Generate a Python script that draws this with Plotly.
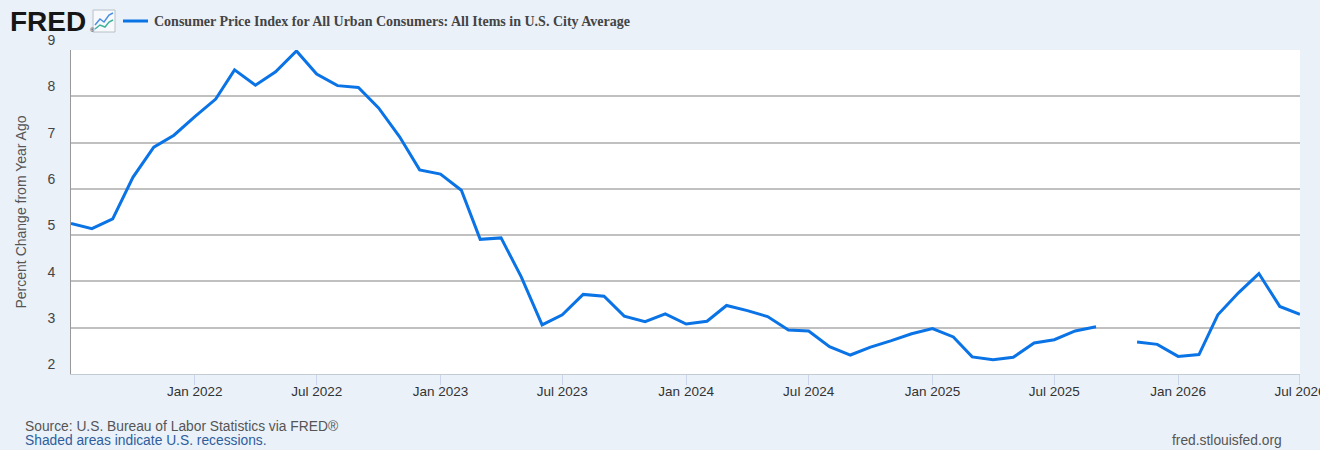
import pandas as pd
import plotly.graph_objects as go

# Monthly observations, Jul 2021 .. Jul 2026 (Oct 2025 missing)
months = pd.date_range("2021-07-01", "2026-07-01", freq="MS")
cpi_yoy = [
    5.25, 5.14, 5.35, 6.25, 6.90, 7.16,              # Jul-Dec 2021
    7.56, 7.94, 8.57, 8.24, 8.53, 8.98,              # Jan-Jun 2022
    8.48, 8.23, 8.19, 7.75, 7.13, 6.41,              # Jul-Dec 2022
    6.32, 5.97, 4.91, 4.94, 4.10, 3.06,              # Jan-Jun 2023
    3.28, 3.72, 3.68, 3.25, 3.13, 3.30,              # Jul-Dec 2023
    3.08, 3.14, 3.48, 3.37, 3.24, 2.95,              # Jan-Jun 2024
    2.93, 2.59, 2.41, 2.58, 2.72, 2.87,              # Jul-Dec 2024
    2.98, 2.80, 2.37, 2.31, 2.36, 2.67,              # Jan-Jun 2025
    2.74, 2.93, 3.02, None, 2.69, 2.64,              # Jul-Dec 2025
    2.38, 2.42, 3.28, 3.76, 4.17, 3.46,              # Jan-Jun 2026
    3.29,                                            # Jul 2026
]

x_ticks = pd.date_range("2022-01-01", "2026-07-01", freq="6MS")
x_tick_text = [d.strftime("%b %Y") for d in x_ticks]
y_ticks = [2, 3, 4, 5, 6, 7, 8, 9]

series_name = "Consumer Price Index for All Urban Consumers: All Items in U.S. City Average"
y_title = "Percent Change from Year Ago"

LINE_BLUE = "#0a73e6"
BG = "#eaf1f9"

# page geometry (pixels) so the header / footer can be placed like FRED does
W, H = 1320, 450
L, R, T, B = 71, 20, 50, 76


def px(x):
    return (x - L) / (W - L - R)


def py(y):
    return (H - B - y) / (H - T - B)


fig = go.Figure()

fig.add_trace(go.Scatter(
    x=months,
    y=cpi_yoy,
    mode="lines",
    line=dict(color=LINE_BLUE, width=3),
    connectgaps=False,
    name=series_name,
    showlegend=False,
))

fig.update_layout(
    width=W,
    height=H,
    autosize=False,
    margin=dict(l=L, r=R, t=T, b=B),
    paper_bgcolor=BG,
    plot_bgcolor="white",
    font=dict(family="Liberation Sans, Arial, sans-serif", color="#444"),
    xaxis=dict(
        range=[months[0], months[-1] + pd.Timedelta(hours=2)],
        tickvals=x_ticks,
        ticktext=x_tick_text,
        tickfont=dict(size=13.5, color="#333"),
        ticklabeloverflow="allow",
        ticklabelstandoff=-5,
        automargin=False,
        ticks="outside",
        ticklen=10,
        tickcolor="#ccd6eb",
        showgrid=False,
        showline=True,
        linecolor="#c3cbd6",
        linewidth=1,
        zeroline=False,
    ),
    yaxis=dict(
        range=[2, 9],
        tickvals=y_ticks,
        tickfont=dict(size=14, color="#444"),
        ticklabelposition="outside top",
        ticklabelstandoff=12,
        automargin=False,
        showgrid=True,
        gridcolor="#c0c0c0",
        gridwidth=1.5,
        showline=True,
        linecolor="#999999",
        linewidth=1,
        zeroline=False,
        title=dict(text=y_title, font=dict(size=14, color="#555"), standoff=17),
    ),
)

# header: FRED logo, little chart icon and the series legend
fig.add_annotation(
    x=px(8), y=py(21), xref="paper", yref="paper", xanchor="left", yanchor="middle",
    text="<b>FRED</b>", showarrow=False,
    font=dict(family="Liberation Sans, Arial, sans-serif", size=28, color="#161616"),
)
fig.add_annotation(
    x=px(88), y=py(30), xref="paper", yref="paper", xanchor="left", yanchor="middle",
    text="®", showarrow=False, font=dict(size=6, color="#161616"),
)
fig.add_shape(
    type="rect", xref="paper", yref="paper",
    x0=px(93), x1=px(115), y0=py(32), y1=py(10),
    fillcolor="#f7f9fc", line=dict(color="#b8c0c8", width=1),
)
fig.add_shape(
    type="path", xref="paper", yref="paper",
    path=f"M {px(95)},{py(25)} L {px(100)},{py(19)} L {px(104)},{py(22)} L {px(109)},{py(15)} L {px(113)},{py(13)}",
    line=dict(color="#4a8fe0", width=1.5),
)
fig.add_shape(
    type="path", xref="paper", yref="paper",
    path=f"M {px(95)},{py(29)} L {px(100)},{py(25)} L {px(105)},{py(27)} L {px(109)},{py(22)} L {px(113)},{py(20)}",
    line=dict(color="#3fb39a", width=1.5),
)
fig.add_shape(
    type="line", xref="paper", yref="paper",
    x0=px(123), x1=px(148), y0=py(21), y1=py(21),
    line=dict(color=LINE_BLUE, width=3),
)
fig.add_annotation(
    x=px(152), y=py(21), xref="paper", yref="paper", xanchor="left", yanchor="middle",
    text=f"<b>{series_name}</b>", showarrow=False,
    font=dict(family="Liberation Serif, Times New Roman, serif", size=14, color="#444"),
)

# footer
fig.add_annotation(
    x=px(23), y=py(426), xref="paper", yref="paper", xanchor="left", yanchor="middle",
    text="Source: U.S. Bureau of Labor Statistics via FRED®", showarrow=False,
    font=dict(size=13.8, color="#555"),
)
fig.add_annotation(
    x=px(23), y=py(440), xref="paper", yref="paper", xanchor="left", yanchor="middle",
    text="Shaded areas indicate U.S. recessions.", showarrow=False,
    font=dict(size=13.8, color="#2f5e9c"),
)
fig.add_annotation(
    x=px(1284), y=py(440), xref="paper", yref="paper", xanchor="right", yanchor="middle",
    text="fred.stlouisfed.org", showarrow=False,
    font=dict(size=13.8, color="#555"),
)

# drop the browser's default body margin so the figure sits at the page corner
fig.write_html(
    "out.html",
    config={"responsive": False, "displayModeBar": False},
    post_script="document.body.style.margin='0';document.body.style.overflow='hidden';",
)
